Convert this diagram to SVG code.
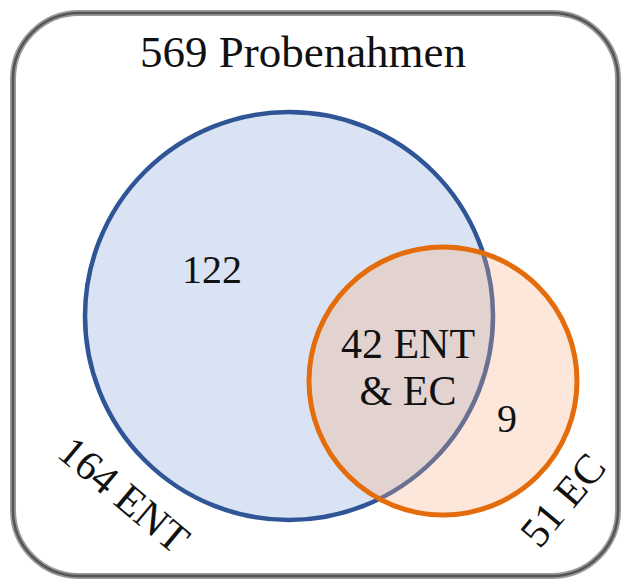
<svg xmlns="http://www.w3.org/2000/svg" width="630" height="584" viewBox="0 0 630 584">
<style>
.t{font-family:"Liberation Serif","Times New Roman",serif;fill:#111;}
</style>
<rect width="630" height="584" fill="#fff"/>
<g id="frame">
<rect x="13" y="13" width="605" height="563" rx="66" ry="66" fill="#fff" stroke="#9a9a9a" stroke-width="6"/>
<rect x="13" y="13" width="605" height="563" rx="66" ry="66" fill="none" stroke="#555" stroke-width="2.5"/>
<text class="t" x="303" y="67" font-size="45" text-anchor="middle">569 Probenahmen</text>
</g>
<g id="ent">
<circle cx="289" cy="316" r="204" fill="#DAE3F3" stroke="#2F5597" stroke-width="4.5"/>
<text class="t" x="212" y="283" font-size="40" text-anchor="middle">122</text>
<text class="t" font-size="42" text-anchor="middle" transform="translate(124,495) rotate(40)" y="14">164 ENT</text>
</g>
<g id="ec">
<circle cx="443" cy="381" r="134" fill="#F4B183" fill-opacity="0.3" stroke="#E46C0A" stroke-width="5"/>
<text class="t" x="507" y="432" font-size="40" text-anchor="middle">9</text>
<text class="t" font-size="42" text-anchor="middle" transform="translate(563,500) rotate(-50)" y="14">51 EC</text>
</g>
<g id="overlap">
<text class="t" x="408" y="358" font-size="42" text-anchor="middle">42 ENT</text>
<text class="t" x="408" y="405" font-size="42" text-anchor="middle">&amp; EC</text>
</g>
</svg>
